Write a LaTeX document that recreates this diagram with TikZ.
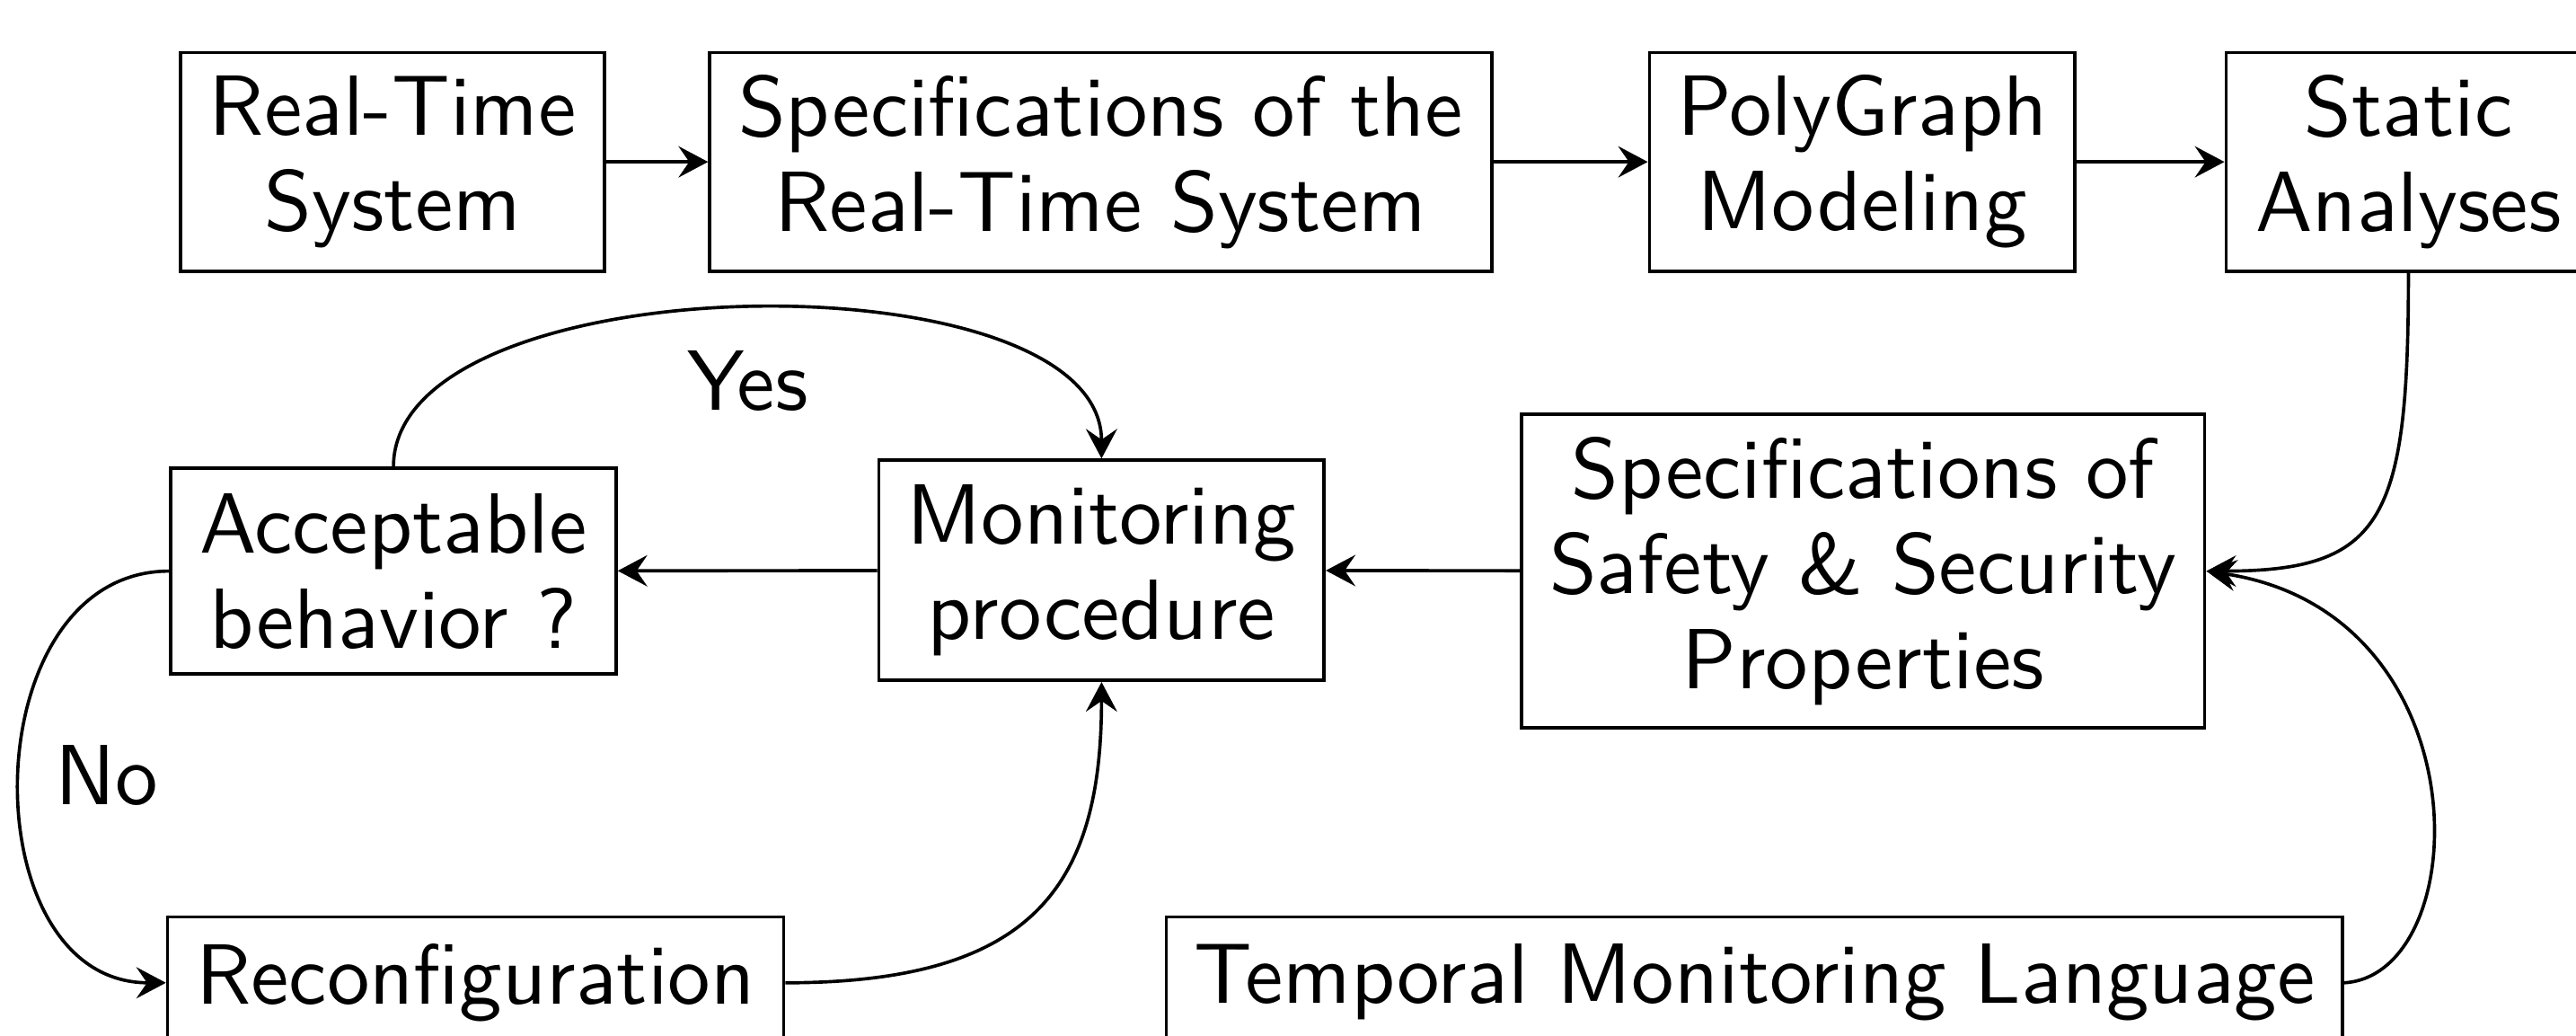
\documentclass[tikz,border=0pt]{standalone}
\usetikzlibrary{arrows.meta}
\begin{document}
\begin{tikzpicture}[x=1pt,y=1pt,
  font=\fontsize{10.4pt}{11.6pt}\selectfont\sffamily,
  box/.style={draw,line width=0.4pt,inner sep=0pt,align=center},
  conn/.style={line width=0.4pt,-{Stealth[length=3.6pt,width=3.8pt,inset=1.3pt]}},
  lbl/.style={inner sep=0pt}]
\clip (0,0) rectangle (313.6,126);
\useasboundingbox (0,0) rectangle (313.6,126);
% top row
\node[box,minimum width=51.6pt,minimum height=26.6pt] (rts) at (47.8,106.3) {Real-Time\\System};
\node[box,minimum width=95.2pt,minimum height=26.6pt] (spec) at (134,106.3) {Specifications of the\\Real-Time System};
\node[box,minimum width=51.8pt,minimum height=26.6pt] (poly) at (226.7,106.3) {PolyGraph\\Modeling};
\node[box,minimum width=44.4pt,minimum height=26.6pt] (stat) at (293.2,106.3) {Static\\Analyses};
% middle row
\node[box,minimum width=54.2pt,minimum height=25pt] (acc) at (47.9,56.5) {Acceptable\\behavior ?};
\node[box,minimum width=54.2pt,minimum height=26.8pt] (mon) at (134.1,56.6) {Monitoring\\procedure};
\node[box,minimum width=83.2pt,minimum height=38.2pt] (ssp) at (226.8,56.5) {Specifications of\\Safety \& Security\\Properties};
% bottom row
\node[box,anchor=north,minimum width=75pt,minimum height=16pt] (rec) at (57.9,14.6) {Reconfiguration};
\node[box,anchor=north,minimum width=143.2pt,minimum height=16pt] (tml) at (213.6,14.6) {Temporal Monitoring Language};
% labels
\node[lbl] (yes) at (91,79.6) {Yes};
\node[lbl] (no) at (13,31.6) {No};
% connectors
\draw[conn] (rts) -- (spec);
\draw[conn] (spec) -- (poly);
\draw[conn] (poly) -- (stat);
\draw[conn] (stat.south) .. controls +(0,-30) and +(21.6,0) .. (ssp.east);
\draw[conn] (ssp) -- (mon);
\draw[conn] (mon) -- (acc);
\draw[conn] (acc.north) .. controls +(0,25) and +(0,25) .. (mon.north);
\draw[conn] (acc.west) .. controls +(-24,0) and +(-24,0) .. (rec.west);
\draw[conn] (rec.east) .. controls +(30,0) and +(0,-25) .. (mon.south);
\draw[conn] (tml.east) .. controls +(16,1) and +(34,-5) .. (ssp.east);
\end{tikzpicture}
\end{document}
